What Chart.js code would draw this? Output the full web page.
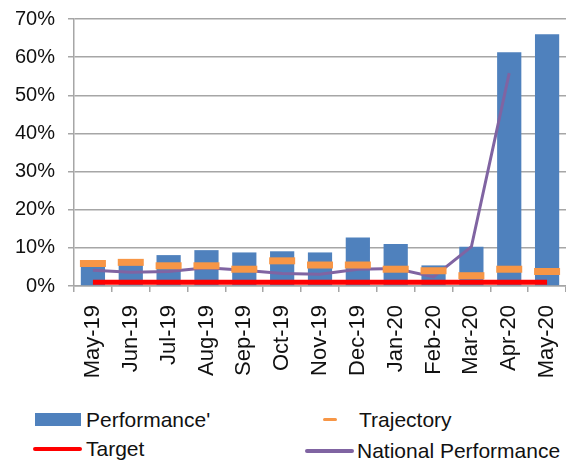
<!DOCTYPE html>
<html>
<head>
<meta charset="utf-8">
<script src="https://cdn.jsdelivr.net/npm/chart.js@4"></script>
<style>
  body { margin: 0; background: #fff; font-family: "Liberation Sans", Arial, sans-serif; }
  #wrap { position: relative; width: 566px; height: 462px; }
  #chart { position: absolute; left: 0; top: 0; }
  .key { position: absolute; font-size: 21px; color: #111; line-height: 24px; white-space: nowrap; }
  .sw { position: absolute; }
</style>
</head>
<body>
<div id="wrap">
  <canvas id="chart" width="566" height="392"></canvas>
  <div id="legend"></div>
</div>
<script>
const months = ["May-19", "Jun-19", "Jul-19", "Aug-19", "Sep-19", "Oct-19", "Nov-19",
  "Dec-19", "Jan-20", "Feb-20", "Mar-20", "Apr-20", "May-20"];
const performance = [5.5, 5.5, 8.1, 9.4, 8.8, 9.1, 8.8, 12.7, 11.0, 5.4, 10.3, 61.3, 66.0];
const trajectory = [5.9, 6.2, 5.3, 5.3, 4.4, 6.6, 5.5, 5.5, 4.4, 4.0, 2.7, 4.4, 3.8];
const target = [1, 1, 1, 1, 1, 1, 1, 1, 1, 1, 1, 1, 1];
const national = [4.1, 3.6, 3.8, 4.8, 4.1, 3.3, 3.1, 4.4, 4.6, 2.4, 10.3, 55.8, null];
const yTicks = [0, 10, 20, 30, 40, 50, 60, 70];

const FONT = "'Liberation Sans', Arial, sans-serif";
const GRID = "#a6a6a6";

const ctx = document.getElementById("chart").getContext("2d");

new Chart(ctx, {
  type: "bar",
  data: {
    labels: months,
    datasets: [
      {
        label: "Performance'",
        data: performance,
        backgroundColor: "#4f81bd",
        barPercentage: 0.64,
        categoryPercentage: 1,
        order: 4,
      },
      {
        type: "line",
        label: "National Performance",
        data: national,
        borderColor: "#8064a2",
        borderWidth: 3,
        pointRadius: 0,
        tension: 0,
        order: 3,
      },
      {
        type: "line",
        label: "Target",
        data: target,
        borderColor: "#ff0000",
        borderWidth: 5,
        pointRadius: 0,
        order: 2,
      },
      {
        type: "line",
        label: "Trajectory",
        data: trajectory,
        showLine: false,
        pointStyle: "line",
        pointRadius: 13,
        pointBorderWidth: 7,
        pointBorderColor: "#f79646",
        borderColor: "#f79646",
        order: 1,
      },
    ],
  },
  options: {
    responsive: false,
    animation: false,
    layout: { autoPadding: false, padding: { top: 19, right: 0, left: 0, bottom: 0 } },
    plugins: {
      legend: { display: false },
      tooltip: { enabled: false },
    },
    scales: {
      x: {
        offset: true,
        grid: {
          offset: true,
          drawOnChartArea: false,
          drawTicks: true,
          tickLength: 6,
          color: GRID,
          lineWidth: 1.5,
        },
        border: { color: GRID, width: 1.5 },
        ticks: {
          minRotation: 90,
          maxRotation: 90,
          padding: 13,
          color: "#111",
          font: { family: FONT, size: 22 },
        },
        afterFit: (scale) => {
          scale.height = 106;
          scale.paddingLeft = 0;
          scale.paddingRight = 0;
        },
      },
      y: {
        min: 0,
        max: 70,
        afterBuildTicks: (scale) => { scale.ticks = yTicks.map((v) => ({ value: v })); },
        grid: { color: GRID, lineWidth: 1.5, tickLength: 6 },
        border: { color: GRID, width: 1.5 },
        ticks: {
          padding: 13,
          color: "#111",
          font: { family: FONT, size: 20 },
          callback: (v) => v + "%",
        },
        afterFit: (scale) => {
          scale.width = 74;
          scale.paddingTop = 0;
          scale.paddingBottom = 0;
        },
      },
    },
  },
});

// legend laid out in two columns under the chart
const legendItems = [
  { text: "Performance'", x: 35, y: 413, sw: { w: 46, h: 13, c: "#4f81bd" }, tx: 86 },
  { text: "Trajectory", x: 323, y: 418, sw: { w: 14, h: 3, c: "#f79646" }, tx: 359 },
  { text: "Target", x: 33, y: 447, sw: { w: 49, h: 4, c: "#ff0000" }, tx: 86 },
  { text: "National Performance", x: 305, y: 449, sw: { w: 49, h: 4, c: "#8064a2" }, tx: 357 },
];
const legend = document.getElementById("legend");
legendItems.forEach((it) => {
  const sw = document.createElement("div");
  sw.className = "sw";
  sw.style.left = it.x + "px";
  sw.style.top = it.y + "px";
  sw.style.width = it.sw.w + "px";
  sw.style.height = it.sw.h + "px";
  sw.style.background = it.sw.c;
  if (it.sw.h <= 4) sw.style.borderRadius = "2px";
  legend.appendChild(sw);
  const t = document.createElement("div");
  t.className = "key";
  t.textContent = it.text;
  t.style.left = it.tx + "px";
  t.style.top = (it.y + it.sw.h / 2 - 12) + "px";
  legend.appendChild(t);
});
</script>
</body>
</html>
